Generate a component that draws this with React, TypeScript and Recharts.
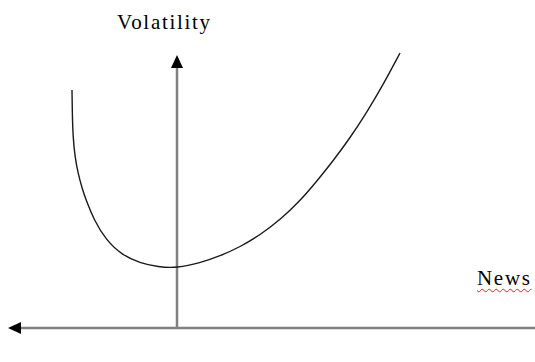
import { LineChart, Line, XAxis, YAxis, ReferenceLine } from "recharts";

// news impact curve: volatility response to news shocks
const NEWS = [
  -1.05, -1.047, -1.04, -1.02, -0.99, -0.95, -0.91, -0.83, -0.71, -0.55, -0.37,
  -0.19, 0, 0.23, 0.43, 0.63, 0.83, 1.03, 1.23, 1.4, 1.56, 1.73, 1.9, 2.06, 2.23,
];
const VOLATILITY = [
  2.38, 2.15, 1.91, 1.71, 1.55, 1.4, 1.28, 1.08, 0.88, 0.73, 0.65, 0.61, 0.6,
  0.65, 0.72, 0.81, 0.93, 1.08, 1.27, 1.47, 1.67, 1.9, 2.16, 2.43, 2.75,
];

const NEWS_DOMAIN = [-1.77, 3.58];
const VOL_DOMAIN = [-0.34, 3.28];
const NEWS_AXIS = [-1.69, 3.58];
const VOL_AXIS_TOP = 2.73;

const data = NEWS.map((n, i) => ({ news: n, vol: VOLATILITY[i] }));

// axis line with an arrow head at the first segment point
const ArrowLine = (props: any) => {
  const { x1, y1, x2, y2 } = props;
  const dx = x2 - x1;
  const dy = y2 - y1;
  const len = Math.hypot(dx, dy) || 1;
  const ux = dx / len;
  const uy = dy / len;
  const head = 13;
  const half = 6;
  const bx = x1 + ux * head;
  const by = y1 + uy * head;
  return (
    <g>
      <line x1={bx} y1={by} x2={x2} y2={y2} stroke="#808080" strokeWidth={2.5} />
      <polygon
        points={`${x1},${y1} ${bx - uy * half},${by + ux * half} ${bx + uy * half},${by - ux * half}`}
        fill="#000"
      />
    </g>
  );
};

const labelStyle: React.CSSProperties = {
  position: "absolute",
  fontFamily: "'Liberation Serif', serif",
  fontSize: 21,
  lineHeight: "20px",
  letterSpacing: 1.7,
  color: "#000",
  whiteSpace: "nowrap",
};

export default function App() {
  return (
    <div style={{ position: "absolute", left: 0, top: 0, width: 535, height: 362, background: "#fff" }}>
      <LineChart width={535} height={362} data={data} margin={{ top: 0, right: 0, bottom: 0, left: 0 }}>
        <XAxis dataKey="news" type="number" domain={NEWS_DOMAIN} hide allowDataOverflow />
        <YAxis type="number" domain={VOL_DOMAIN} hide allowDataOverflow />
        <ReferenceLine
          ifOverflow="visible"
          segment={[
            { x: NEWS_AXIS[0], y: 0 },
            { x: NEWS_AXIS[1], y: 0 },
          ]}
          shape={ArrowLine}
        />
        <ReferenceLine
          ifOverflow="visible"
          segment={[
            { x: 0, y: VOL_AXIS_TOP },
            { x: 0, y: 0 },
          ]}
          shape={ArrowLine}
        />
        <Line
          type="basis"
          dataKey="vol"
          stroke="#1a1a1a"
          strokeWidth={1.4}
          dot={false}
          activeDot={false}
          isAnimationActive={false}
        />
      </LineChart>
      <span style={{ ...labelStyle, left: 117, top: 12 }}>Volatility</span>
      <span
        style={{
          ...labelStyle,
          left: 477,
          top: 268,
          textDecoration: "underline wavy #e02020",
          textDecorationThickness: 1,
          textUnderlineOffset: 3,
        }}
      >
        News
      </span>
    </div>
  );
}
